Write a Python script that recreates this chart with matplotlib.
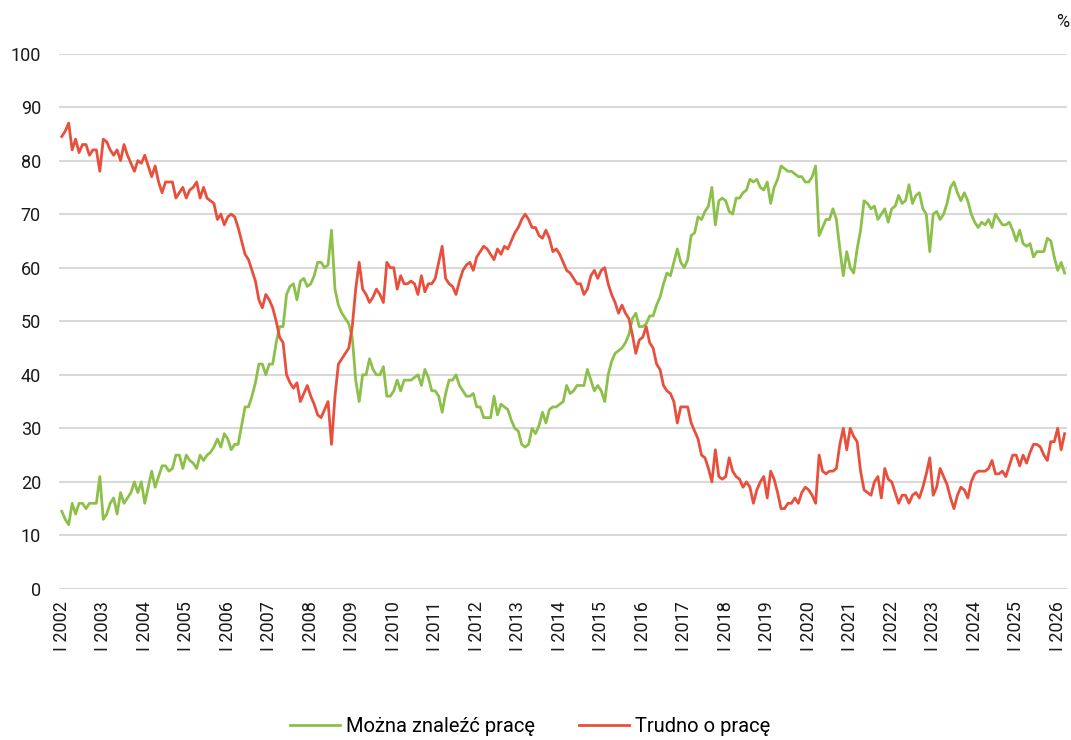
import matplotlib
matplotlib.use('Agg')
import matplotlib.pyplot as plt
import numpy as np

plt.rcParams['font.family'] = ['Roboto', 'DejaVu Sans']

# monthly survey, January 2002 .. March 2026
years = list(range(2002, 2027))
tick_labels = [f'I {y}' for y in years]

mozna = [
    14.5, 13, 12, 16, 14, 16, 16, 15, 16, 16, 16, 21,            # 2002
    13, 14, 16, 17, 14, 18, 16, 17, 18, 20, 18, 20,              # 2003
    16, 19, 22, 19, 21, 23, 23, 22, 22.5, 25, 25, 22.5,          # 2004
    25, 24, 23.5, 22.5, 25, 24, 25, 25.5, 26.5, 28, 26.5, 29,    # 2005
    28, 26, 27, 27, 30.5, 34, 34, 36, 38.5, 42, 42, 40,          # 2006
    42, 42, 46, 49, 49, 55, 56.5, 57, 54, 57.5, 58, 56.5,        # 2007
    57, 58.5, 61, 61, 60, 60.5, 67, 56, 53, 51.5, 50.5, 49.5,    # 2008
    47, 39, 35, 40, 40, 43, 41, 40, 40, 41.5, 36, 36,            # 2009
    37, 39, 37, 39, 39, 39, 39.5, 40, 38, 41, 39.5, 37,          # 2010
    37, 36, 33, 36.5, 39, 39, 40, 38, 37, 36, 36, 36.5,          # 2011
    34, 34, 32, 32, 32, 36, 32.5, 34.5, 34, 33.5, 31.5, 30,      # 2012
    29.5, 27, 26.5, 27, 30, 29, 30.5, 33, 31, 33.5, 34, 34,      # 2013
    34.5, 35, 38, 36.5, 37, 38, 38, 38, 41, 39, 37, 38,          # 2014
    37, 35, 40, 42.5, 44, 44.5, 45, 46, 47.5, 50.5, 51.5, 49,    # 2015
    49, 49.5, 51, 51, 53, 54.5, 57, 59, 58.5, 61, 63.5, 61,      # 2016
    60, 61.5, 66, 66.5, 69.5, 69, 70.5, 71.5, 75, 68, 72.5, 73,  # 2017
    72.5, 70.5, 70, 73, 73, 74, 74.5, 76.5, 76, 76.5, 75, 74.5,  # 2018
    76, 72, 75, 76.5, 79, 78.5, 78, 78, 77.5, 77, 77, 76,        # 2019
    76, 77, 79, 66, 67.5, 69, 69, 71, 69, 63.5, 58.5, 63,        # 2020
    60, 59, 63.5, 67, 72.5, 72, 71, 71.5, 69, 70, 71, 68.5,      # 2021
    71, 71.5, 73.5, 72, 72.5, 75.5, 72, 73.5, 74, 71, 70, 63,    # 2022
    70, 70.5, 69, 70, 72, 75, 76, 74, 72.5, 74, 72.5, 70,        # 2023
    68.5, 67.5, 68.5, 68, 69, 67.5, 70, 69, 68, 68, 68.5, 67,    # 2024
    65, 67, 64.5, 64, 64.5, 62, 63, 63, 63, 65.5, 65, 62,        # 2025
    59.5, 61, 59,                                                # 2026
]

trudno = [
    84.5, 85.5, 87, 82, 84, 81.5, 83, 83, 81, 82, 82, 78,        # 2002
    84, 83.5, 82, 81, 82, 80, 83, 81, 79.5, 78, 80, 79.5,        # 2003
    81, 79, 77, 79, 76, 74, 76, 76, 76, 73, 74, 75,              # 2004
    73, 74.5, 75, 76, 73, 75, 73, 72.5, 72, 69, 70, 68,          # 2005
    69.5, 70, 69.5, 67.5, 65, 62.5, 61.5, 59.5, 57.5, 54, 52.5, 55,  # 2006
    54, 52.5, 50, 47, 46, 40, 38.5, 37.5, 38.5, 35, 36.5, 38,    # 2007
    36, 34.5, 32.5, 32, 33.5, 35, 27, 36, 42, 43, 44, 45,        # 2008
    49, 56, 61, 56, 55, 53.5, 54.5, 56, 55, 53.5, 61, 60,        # 2009
    60, 56, 58.5, 57, 57, 57.5, 57, 55, 58.5, 55.5, 57, 57,      # 2010
    58, 61, 64, 58, 57, 56.5, 55, 57.5, 59.5, 60.5, 61, 59.5,    # 2011
    62, 63, 64, 63.5, 62.5, 61.5, 63.5, 62.5, 64, 63.5, 65, 66.5,  # 2012
    67.5, 69, 70, 69, 67.5, 67.5, 66, 65.5, 67, 65.5, 63, 63.5,  # 2013
    62.5, 61, 59.5, 59, 58, 57, 57, 55, 56, 58.5, 59.5, 58,      # 2014
    59.5, 60, 57, 55, 53.5, 51.5, 53, 51.5, 50.5, 47.5, 44, 46.5,  # 2015
    47, 49, 46, 45, 42, 41, 38, 37, 36.5, 35, 31, 34,            # 2016
    34, 34, 31, 29.5, 28, 25, 24.5, 22.5, 20, 26, 21, 20.5,      # 2017
    21, 24.5, 22, 21, 20.5, 19, 20, 19, 16, 18.5, 20, 21,        # 2018
    17, 22, 20.5, 18, 15, 15, 16, 16, 17, 16, 18, 19,            # 2019
    18.5, 17.5, 16, 25, 22, 21.5, 22, 22, 22.5, 27, 30, 26,      # 2020
    30, 28.5, 27.5, 22, 18.5, 18, 17.5, 20, 21, 17, 22.5, 20.5,  # 2021
    20, 18, 16, 17.5, 17.5, 16, 17.5, 18, 17, 19, 21.5, 24.5,    # 2022
    17.5, 19, 22.5, 21, 19.5, 17, 15, 17.5, 19, 18.5, 17, 20,    # 2023
    21.5, 22, 22, 22, 22.5, 24, 21.5, 21.5, 22, 21, 23, 25,      # 2024
    25, 23, 25, 23.5, 25.5, 27, 27, 26.5, 25, 24, 27.5, 27.5,    # 2025
    30, 26, 29,                                                  # 2026
]

fig = plt.figure(figsize=(10.71, 7.40), dpi=100)
ax = fig.add_axes([0.0551, 0.2041, 0.9412, 0.7236])

x = np.arange(len(mozna))
ax.plot(x, mozna, color='#8dc04b', lw=2.0, solid_joinstyle='round',
        label='Można znaleźć pracę')
ax.plot(x, trudno, color='#e8503d', lw=2.0, solid_joinstyle='round',
        label='Trudno o pracę')

ax.set_xlim(-0.8, 290.7)
ax.set_ylim(0, 100)
ax.set_yticks(range(0, 101, 10))
ax.set_xticks(np.arange(len(years)) * 12)
ax.set_xticklabels(tick_labels, rotation=90)
ax.tick_params(length=0, labelsize=13, colors='#1a1a1a')
ax.tick_params(axis='y', pad=13)
ax.tick_params(axis='x', pad=9)
ax.grid(axis='y', color='#d9d9d9', lw=1.5)
ax.set_axisbelow(True)
for s in ax.spines.values():
    s.set_visible(False)

fig.text(1063 / 1071, 1 - 22 / 740, '%', ha='center', va='center',
         fontsize=13, color='#1a1a1a')

fig.legend(loc='center', bbox_to_anchor=(0.495, 0.018), ncol=2,
           frameon=False, fontsize=14.5, handlelength=2.5,
           handletextpad=0.3, columnspacing=2.15)

fig.savefig('out.png', dpi=100)
